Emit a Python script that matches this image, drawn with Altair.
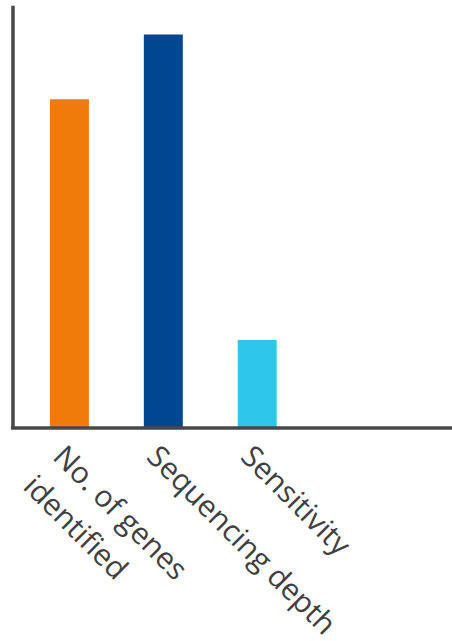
import altair as alt
import pandas as pd

categories = ["No. of genes\nidentified", "Sequencing depth", "Sensitivity"]
values = [77.8, 93.1, 20.8]
colors = ["#F07A0A", "#004690", "#2EC6EA"]

df = pd.DataFrame({"category": categories, "value": values})

W, H = 440, 423
AXIS_COLOR = "#484848"

x_scale = alt.Scale(domain=categories, range=[37.5, 264.5], paddingInner=0.585, paddingOuter=0)
y_scale = alt.Scale(domain=[0, 100], nice=False)

bars = alt.Chart(df).mark_bar().encode(
    x=alt.X(
        "category:N",
        sort=categories,
        scale=x_scale,
        title="",
        axis=alt.Axis(
            domain=False,
            ticks=False,
            tickSize=0,
            grid=False,
            labelAngle=45,
            labelAlign="left",
            labelBaseline="top",
            labelFont="Open Sans",
            labelFontSize=30,
            labelColor="#404040",
            labelLineHeight=42,
            labelPadding=13,
            labelOffset=-1,
            labelLimit=1000,
            labelOverlap=False,
            labelBound=False,
            labelExpr="split(datum.label, '\\n')",
        ),
    ),
    y=alt.Y(
        "value:Q",
        scale=y_scale,
        title="",
        axis=alt.Axis(
            domain=True,
            domainColor=AXIS_COLOR,
            domainWidth=3.5,
            ticks=False,
            labels=False,
            grid=False,
            zindex=1,
        ),
    ),
    color=alt.Color("category:N", scale=alt.Scale(domain=categories, range=colors), legend=None),
)

baseline = alt.Chart(pd.DataFrame({"v": [0]})).mark_rule(
    color=AXIS_COLOR, strokeWidth=3.5
).encode(
    y=alt.datum(0),
    x=alt.value(-1.5),
    x2=alt.value(W),
)

chart = alt.layer(bars, baseline).properties(
    width=W,
    height=H,
    autosize=alt.AutoSizeParams(type="none"),
    padding={"left": 12.5, "top": 5, "right": 0, "bottom": 213},
).configure_view(stroke="transparent")

chart.save("out.html", embed_options={"renderer": "svg", "actions": False})
